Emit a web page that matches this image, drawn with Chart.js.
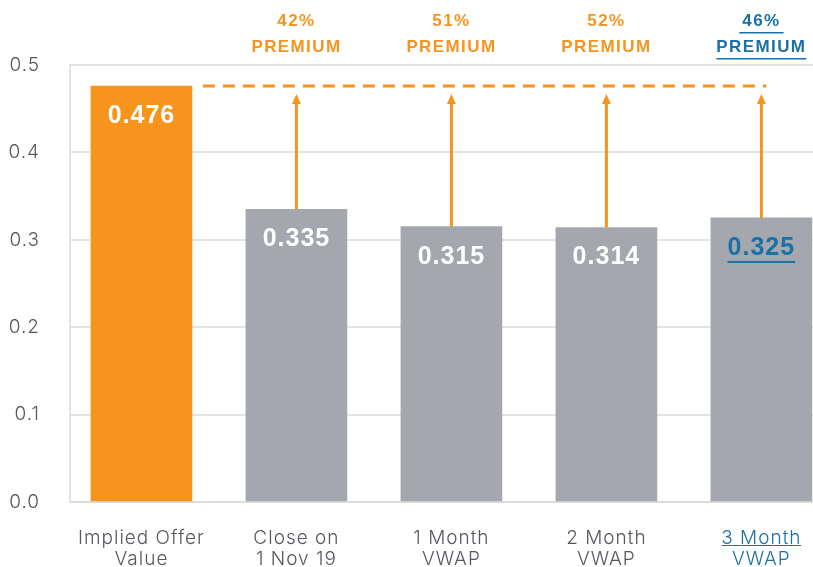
<!DOCTYPE html>
<html>
<head>
<meta charset="utf-8">
<script src="https://cdn.jsdelivr.net/npm/chart.js@4"></script>
<style>
  html, body { margin: 0; padding: 0; background: #fff; }
  #wrap { width: 813px; height: 567px; position: relative; }
</style>
</head>
<body>
<div id="wrap"><canvas id="chart"></canvas></div>
<script>
// ── 資料 ──
const categories = [
    ['Implied Offer', 'Value'],
    ['Close on', '1 Nov 19'],
    ['1 Month', 'VWAP'],
    ['2 Month', 'VWAP'],
    ['3 Month', 'VWAP']
];
const values   = [0.476, 0.335, 0.315, 0.314, 0.325];
const premiums = [null, '42%', '51%', '52%', '46%'];
const yTicks   = [0.0, 0.1, 0.2, 0.3, 0.4, 0.5];

// 顏色
const ORANGE = '#F7941D';
const GREY   = '#A5A7AE';
const BLUE   = '#1A71A5';
const TEXT   = '#55585E';
const LABEL_FONT = 'Inter, Roboto, sans-serif';
const BOLD_FONT  = '"Liberation Sans", Arial, sans-serif';
const LABEL_SPACING = '1px';

// ── 軸標籤字距 ──
const spacingPlugin = {
    id: 'spacing',
    beforeDraw(chart) { chart.ctx.letterSpacing = LABEL_SPACING; }
};

// ── 自訂繪製：數值、溢價箭頭、虛線 ──
const annotatePlugin = {
    id: 'annotate',
    afterDatasetsDraw(chart) {
        const ctx = chart.ctx;
        const xs = chart.scales.x, ys = chart.scales.y;
        const top = chart.chartArea.top;
        const yRef = ys.getPixelForValue(values[0]);
        const half = 50.5;

        ctx.save();
        // 虛線
        ctx.strokeStyle = ORANGE;
        ctx.lineWidth = 3;
        ctx.setLineDash([12, 8]);
        ctx.beginPath();
        ctx.moveTo(xs.getPixelForValue(0) + half + 11, yRef);
        ctx.lineTo(xs.getPixelForValue(values.length - 1) + 5, yRef);
        ctx.stroke();
        ctx.setLineDash([]);

        values.forEach((v, i) => {
            const x = xs.getPixelForValue(i);
            const y = ys.getPixelForValue(v);
            const isLast = i === values.length - 1;

            // 箭頭
            if (i > 0) {
                ctx.strokeStyle = ORANGE;
                ctx.fillStyle = ORANGE;
                ctx.lineWidth = 3;
                ctx.beginPath();
                ctx.moveTo(x, y);
                ctx.lineTo(x, yRef + 16);
                ctx.stroke();
                ctx.beginPath();
                ctx.moveTo(x, yRef + 8);
                ctx.lineTo(x - 4.5, yRef + 18);
                ctx.lineTo(x + 4.5, yRef + 18);
                ctx.closePath();
                ctx.fill();

                // 溢價文字
                const col = isLast ? BLUE : ORANGE;
                ctx.fillStyle = col;
                ctx.font = 'bold 17px ' + BOLD_FONT;
                ctx.letterSpacing = '1.4px';
                ctx.textAlign = 'center';
                ctx.textBaseline = 'middle';
                ctx.fillText(premiums[i], x, top - 44);
                ctx.fillText('PREMIUM', x, top - 18);
                if (isLast) {
                    const w1 = ctx.measureText(premiums[i] + ' ').width;
                    const w2 = ctx.measureText('PREMIUM').width;
                    ctx.fillRect(x - w1 / 2, top - 33, w1, 1.5);
                    ctx.fillRect(x - w2 / 2, top - 7, w2, 1.5);
                }
            }

            // 數值
            ctx.fillStyle = isLast ? BLUE : '#fff';
            ctx.font = 'bold 25px ' + BOLD_FONT;
            ctx.letterSpacing = '1px';
            ctx.textAlign = 'center';
            ctx.textBaseline = 'middle';
            ctx.fillText(v.toFixed(3), x, y + 30);
            if (isLast) {
                const w = ctx.measureText(v.toFixed(3)).width;
                ctx.fillRect(x - w / 2, y + 43, w, 2);
            }
        });

        // 最後一個分類標籤的底線（只在第一行）
        const lx = xs.getPixelForValue(values.length - 1);
        ctx.font = '300 19px ' + LABEL_FONT;
        ctx.letterSpacing = LABEL_SPACING;
        ctx.fillStyle = BLUE;
        const w = ctx.measureText(categories[values.length - 1][0]).width - 1;
        ctx.fillRect(lx - w / 2, chart.chartArea.bottom + 43, w, 1);
        ctx.restore();
    }
};

new Chart(document.getElementById('chart').getContext('2d'), {
    type: 'bar',
    data: {
        datasets: [{
            data: values.map((v, i) => ({ x: i, y: v })),
            backgroundColor: values.map((v, i) => i === 0 ? ORANGE : GREY),
            barThickness: 101,
            borderWidth: 0
        }]
    },
    options: {
        responsive: true,
        maintainAspectRatio: false,
        animation: false,
        layout: { padding: { top: 65, right: 0, left: 0, bottom: 0 } },
        plugins: {
            legend: { display: false },
            tooltip: { enabled: false }
        },
        scales: {
            x: {
                type: 'linear',
                offset: false,
                bounds: 'ticks',
                min: -0.461,
                max: 4.333,
                afterBuildTicks: axis => {
                    axis.ticks = categories.map((c, i) => ({ value: i }));
                },
                afterFit: axis => {
                    axis.height = 65;
                    axis.paddingRight = 0;
                    axis.paddingLeft = 0;
                },
                grid: { display: false, drawTicks: false },
                border: { display: true, color: '#DCDCDC', width: 2 },
                ticks: {
                    autoSkip: false,
                    maxRotation: 0,
                    padding: 25,
                    font: { family: LABEL_FONT, size: 19, weight: '300', lineHeight: 1.15 },
                    color: ctx => ctx.index === values.length - 1 ? BLUE : TEXT,
                    callback: val => categories[val]
                }
            },
            y: {
                min: 0,
                max: 0.5,
                afterBuildTicks: axis => {
                    axis.ticks = yTicks.map(v => ({ value: v }));
                },
                afterFit: axis => { axis.width = 70; },
                grid: { color: '#E4E4E4', lineWidth: 2, drawTicks: false },
                border: { display: true, color: '#E4E4E4', width: 2 },
                ticks: {
                    padding: 30,
                    font: { family: LABEL_FONT, size: 19, weight: '300' },
                    color: TEXT,
                    callback: val => Number(val).toFixed(1)
                }
            }
        }
    },
    plugins: [spacingPlugin, annotatePlugin]
});
</script>
</body>
</html>
